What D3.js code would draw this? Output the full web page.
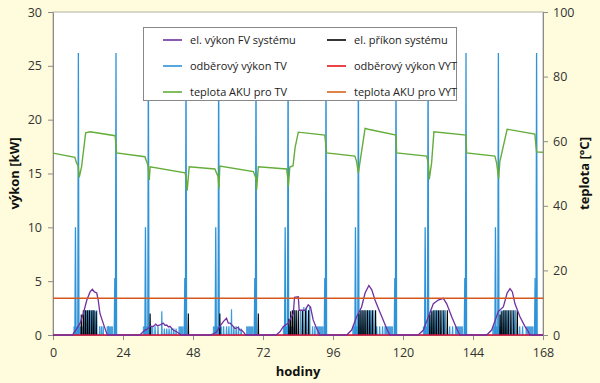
<!DOCTYPE html>
<html>
<head>
<meta charset="utf-8">
<script src="https://cdn.jsdelivr.net/npm/d3@7"></script>
<style>
  body { margin: 0; background: #fefcdc; }
  text { font-family: "Open Sans", "Liberation Sans", sans-serif; }
  .tick text { fill: #333; font-size: 12.5px; }
  .axis path, .axis line { stroke: #8c8c8c; }
  .title { font-weight: bold; font-size: 13px; fill: #111; }
  .legend text { font-size: 11px; fill: #222; }
</style>
</head>
<body>
<div id="chart"></div>
<script>
// ---- data ----
var hourTicks = [0, 24, 48, 72, 96, 120, 144, 168];
var kwTicks = [0, 5, 10, 15, 20, 25, 30];
var tempTicks = [0, 20, 40, 60, 80, 100];

// el. výkon FV systému [hour, kW]
var pvPower = [
  [0, 0], [6.8, 0], [7.0, 0.15], [8.2, 0.6], [9.3, 1.1], [10.4, 2.0], [11.6, 3.25], [12.7, 4.0], [13.5, 4.25],
  [14.2, 4.0], [15.0, 3.9], [15.5, 3.25], [16.1, 2.0], [17.2, 1.1], [18.4, 0.15], [18.6, 0],
  [29.8, 0], [31.5, 0.45], [32.1, 0.5], [33.3, 0.8], [34.4, 0.8], [35.2, 1.0], [35.8, 0.85], [36.7, 0.93],
  [37.8, 1.1], [38.4, 0.9], [39.0, 0.93], [39.6, 0.75], [40.1, 0.8], [41.2, 0.46], [42.4, 0.3], [43.5, 0.1], [43.8, 0],
  [53.8, 0], [55.0, 0.1], [56.1, 0.3], [57.2, 0.8], [58.4, 1.24], [59.5, 1.55], [60.1, 1.1], [60.7, 1.1],
  [61.8, 0.8], [62.4, 0.6], [63.5, 0.7], [64.1, 0.46], [64.7, 0.46], [65.8, 0.1], [66.0, 0],
  [76.5, 0], [77.8, 0.3], [79.0, 0.8], [80.7, 1.1], [81.6, 1.6], [82.4, 2.0], [82.8, 3.5], [84.1, 3.55],
  [84.4, 2.3], [86.4, 2.3], [87.5, 2.8], [88.3, 2.6], [89.2, 1.4], [90.4, 0.6], [91.5, 0],
  [100.7, 0], [102.4, 0.46], [104.1, 1.7], [105.8, 2.6], [107.0, 3.9], [108.3, 4.6], [109.3, 4.2],
  [110.4, 3.25], [111.5, 2.5], [113.2, 1.4], [114.6, 0.46], [115.5, 0],
  [125.2, 0], [127.0, 0.46], [128.7, 1.7], [130.4, 2.9], [132.1, 3.25], [133.8, 3.4], [135.0, 2.9],
  [136.7, 1.7], [138.4, 0.6], [139.5, 0],
  [148.7, 0], [150.4, 0.46], [152.7, 2.2], [154.4, 2.6], [155.7, 3.9], [156.7, 4.3], [157.5, 4.0],
  [158.4, 2.9], [160.1, 1.7], [161.8, 0.8], [163.0, 0.3], [163.5, 0], [168, 0]
];

// el. příkon systému [hour, kW]
var sysPower = [
  [9.7, 1.9], [10.4, 2.3], [11.1, 2.3], [11.8, 2.3], [12.5, 2.3], [13.3, 2.3], [14.0, 2.3], [14.8, 2.2],
  [33.3, 2.0], [46.4, 2.0], [57.2, 2.0], [70.4, 2.0],
  [80.9, 1.5], [81.5, 2.2], [82.1, 2.3], [82.7, 2.3], [83.4, 2.3], [84.1, 2.3], [85.5, 2.3], [86.6, 2.3], [87.6, 2.3],
  [104.9, 2.0], [105.6, 2.3], [106.3, 2.3], [107.0, 2.3], [107.8, 2.3], [108.6, 2.3], [109.5, 2.3], [110.6, 2.3],
  [129.2, 1.9], [129.9, 2.2], [130.6, 2.3], [131.4, 2.3], [132.2, 2.3], [133.0, 2.3], [134.0, 2.3], [135.2, 2.3],
  [153.3, 1.9], [153.9, 2.2], [154.6, 2.3], [155.3, 2.3], [156.1, 2.3], [157.0, 2.3], [158.0, 2.3], [159.2, 2.3]
];

// odběrový výkon TV: draw-off peaks [hour, kW]
var tvPeaks = [
  [7.7, 10], [8.7, 26.2], [21.2, 5.3], [21.6, 26.2],
  [31.7, 10], [32.7, 26.2], [45.2, 5.3], [45.6, 26.2],
  [55.8, 10], [56.8, 26.2], [69.2, 5.3], [69.6, 26.2],
  [79.6, 10], [80.6, 26.2], [93.2, 5.3], [93.6, 26.2],
  [103.7, 10], [104.7, 26.2], [117.2, 5.3], [117.6, 26.2],
  [127.6, 10], [128.6, 26.2], [141.2, 5.3], [141.6, 26.2],
  [151.7, 10], [152.7, 26.2], [165.3, 5.3], [165.8, 26.2]
];
// odběrový výkon TV: smaller draw-offs [hour, kW]
var tvSmall = [
  [10.9, 2.3], [11.5, 2.3], [12.2, 2.3], [12.9, 2.3], [13.6, 2.3], [14.3, 2.3], [15.0, 2.3], [16.0, 0.8], [16.6, 0.8], [17.2, 0.8], [19.0, 0.8],
  [35.0, 0.8], [36.0, 0.8], [37.3, 2.2], [38.2, 0.6], [39.0, 0.6], [39.8, 0.6], [40.6, 0.6], [41.4, 0.6], [42.2, 0.6],
  [58.5, 0.8], [59.5, 0.8], [60.3, 0.8], [61.2, 2.4], [62.0, 0.8], [62.8, 0.8], [63.6, 0.8], [64.5, 0.6],
  [83.0, 2.3], [84.8, 2.3], [86.0, 2.6], [86.9, 2.6], [88.0, 2.6], [89.0, 0.8], [89.8, 0.8],
  [105.3, 2.3], [106.0, 2.3], [106.7, 2.3], [107.4, 2.3], [108.2, 2.3], [109.0, 2.3], [110.0, 2.3], [111.0, 0.8], [112.0, 0.8], [113.0, 0.8],
  [129.6, 2.3], [130.3, 2.3], [131.0, 2.3], [131.8, 2.3], [132.6, 2.3], [133.5, 2.3], [134.5, 2.3], [136.0, 0.8], [137.0, 0.8],
  [153.6, 2.3], [154.3, 2.3], [155.0, 2.3], [155.7, 2.3], [156.6, 2.3], [157.5, 2.3], [158.6, 2.3], [160.0, 0.8], [161.0, 0.8]
];
// odběrový výkon TV: continuous low draw [start hour, end hour, kW]
var tvBlocks = [
  [7.0, 10.2, 0.8], [18.4, 20.6, 0.8],
  [30.8, 34.4, 0.8], [43.0, 44.8, 0.8],
  [54.8, 58.0, 0.8], [66.2, 68.8, 0.8],
  [78.8, 82.4, 0.8], [90.4, 92.8, 0.8],
  [102.6, 106.0, 0.8], [113.6, 116.6, 0.8],
  [126.8, 130.0, 0.8], [137.8, 140.6, 0.8],
  [150.6, 154.0, 0.8], [162.0, 164.8, 0.8]
];

// odběrový výkon VYT [hour, kW]
var vytPower = [[0, 0], [168, 0]];

// teplota AKU pro TV [hour, °C]
var tvTemp = [
  [0, 56.3], [7.5, 55.0], [8.1, 53.2], [8.6, 52.5], [9.0, 48.8], [9.8, 52.1], [11.2, 62.6], [12.7, 62.9],
  [21.3, 61.7], [21.8, 56.4], [31.5, 55.2], [32.1, 53.7], [32.6, 52.5], [33.0, 48.0], [33.3, 52.1],
  [45.3, 50.2], [45.7, 48.5], [46.0, 44.7], [46.7, 52.1], [55.5, 51.4], [56.6, 49.0], [56.9, 45.4], [57.2, 52.3],
  [68.7, 50.6], [69.6, 48.5], [69.8, 44.9], [70.4, 52.1], [80.1, 51.4], [80.5, 48.5], [80.7, 45.9], [81.2, 52.0],
  [82.3, 52.4], [83.0, 58.0], [84.1, 62.8], [93.2, 61.9], [93.8, 56.4], [103.5, 55.4], [104.1, 53.7],
  [104.7, 50.1], [105.2, 53.2], [107.0, 64.0], [108.1, 63.7], [117.6, 61.9], [117.8, 56.4], [128.1, 55.4],
  [128.7, 53.2], [129.0, 48.2], [129.8, 53.2], [130.6, 62.9], [141.6, 61.9], [141.8, 56.4], [151.5, 55.4],
  [152.1, 53.2], [152.8, 48.5], [153.2, 53.7], [155.7, 63.7], [165.2, 62.2], [165.8, 56.7], [168, 56.6]
];

// teplota AKU pro VYT [hour, °C]
var vytTemp = [[0, 11.4], [168, 11.4]];

var legendItems = [
  ["el. výkon FV systému", "#7030a0"], ["el. příkon systému", "#000000"],
  ["odběrový výkon TV", "#2e93d8"], ["odběrový výkon VYT", "#e8141e"],
  ["teplota AKU pro TV", "#64ad3a"], ["teplota AKU pro VYT", "#d9661e"]
];

// ---- layout ----
var svgWidth = 600;
var svgHeight = 383;
var plot = { left: 53, right: 543, top: 12, bottom: 335 };

var svg = d3.select("#chart")
  .append("svg")
  .attr("width", svgWidth)
  .attr("height", svgHeight);

var xScale = d3.scaleLinear().domain([0, 168]).range([plot.left, plot.right]);
var yKw = d3.scaleLinear().domain([0, 30]).range([plot.bottom, plot.top]);
var yTemp = d3.scaleLinear().domain([0, 100]).range([plot.bottom, plot.top]);

// plot area
svg.append("rect")
  .attr("x", plot.left)
  .attr("y", plot.top)
  .attr("width", plot.right - plot.left)
  .attr("height", plot.bottom - plot.top)
  .attr("fill", "#fff")
  .attr("stroke", "#b0b0a0")
  .attr("stroke-width", 1);

// axes
svg.append("g")
  .attr("class", "axis")
  .attr("transform", `translate(0, ${plot.bottom})`)
  .call(d3.axisBottom(xScale).tickValues(hourTicks).tickSize(5).tickPadding(6).tickSizeOuter(0))
  .selectAll("text").attr("dy", "0.9em");

svg.append("g")
  .attr("class", "axis")
  .attr("transform", `translate(${plot.left}, 0)`)
  .call(d3.axisLeft(yKw).tickValues(kwTicks).tickSize(5).tickPadding(6).tickSizeOuter(0));

svg.append("g")
  .attr("class", "axis")
  .attr("transform", `translate(${plot.right}, 0)`)
  .call(d3.axisRight(yTemp).tickValues(tempTicks).tickSize(5).tickPadding(5).tickSizeOuter(0));

// axis titles
svg.append("text")
  .attr("class", "title")
  .attr("x", (plot.left + plot.right) / 2)
  .attr("y", 376)
  .attr("text-anchor", "middle")
  .text("hodiny");

svg.append("text")
  .attr("class", "title")
  .attr("transform", `translate(19, ${(plot.top + plot.bottom) / 2}) rotate(-90)`)
  .attr("text-anchor", "middle")
  .text("výkon [kW]");

svg.append("text")
  .attr("class", "title")
  .attr("transform", `translate(589, ${(plot.top + plot.bottom) / 2}) rotate(-90)`)
  .attr("text-anchor", "middle")
  .text("teplota [°C]");

var series = svg.append("g");

// low continuous TV draw blocks
series.selectAll(".tvBlock")
  .data(tvBlocks)
  .enter()
  .append("rect")
  .attr("x", d => xScale(d[0]))
  .attr("y", d => yKw(d[2]))
  .attr("width", d => xScale(d[1]) - xScale(d[0]))
  .attr("height", d => yKw(0) - yKw(d[2]))
  .attr("fill", "#4a9fdc");

// spike helper: a narrow up-down stroke like a line chart point
function spike(d, half) {
  return `M${xScale(d[0] - half)},${yKw(0)} L${xScale(d[0])},${yKw(d[1])} L${xScale(d[0] + half)},${yKw(0)}`;
}

series.selectAll(".tvSmall")
  .data(tvSmall)
  .enter()
  .append("path")
  .attr("d", d => spike(d, 0.12))
  .attr("fill", "none")
  .attr("stroke", "#3b9ad9")
  .attr("stroke-width", 1.2);

series.selectAll(".tvPeak")
  .data(tvPeaks)
  .enter()
  .append("path")
  .attr("d", d => spike(d, 0.2))
  .attr("fill", "none")
  .attr("stroke", "#2e93d8")
  .attr("stroke-width", 1.3);

series.selectAll(".sys")
  .data(sysPower)
  .enter()
  .append("path")
  .attr("d", d => spike(d, 0.1))
  .attr("fill", "none")
  .attr("stroke", "#000")
  .attr("stroke-width", 1.1);

var lineKw = d3.line().x(d => xScale(d[0])).y(d => yKw(d[1]));
var lineTemp = d3.line().x(d => xScale(d[0])).y(d => yTemp(d[1]));

series.append("path")
  .datum(vytPower)
  .attr("d", lineKw)
  .attr("fill", "none")
  .attr("stroke", "#d8123c")
  .attr("stroke-width", 1.6);

series.append("path")
  .datum(pvPower)
  .attr("d", lineKw)
  .attr("fill", "none")
  .attr("stroke", "#7030a0")
  .attr("stroke-width", 1.3);

series.append("path")
  .datum(vytTemp)
  .attr("d", lineTemp)
  .attr("fill", "none")
  .attr("stroke", "#d5581e")
  .attr("stroke-width", 1.5);

series.append("path")
  .datum(tvTemp)
  .attr("d", lineTemp)
  .attr("fill", "none")
  .attr("stroke", "#64ad3a")
  .attr("stroke-width", 1.4);

// legend
var legend = svg.append("g").attr("class", "legend");

legend.append("rect")
  .attr("x", 143.5)
  .attr("y", 27.5)
  .attr("width", 313)
  .attr("height", 73)
  .attr("fill", "#fff")
  .attr("stroke", "#888")
  .attr("stroke-width", 1);

var items = legend.selectAll(".item")
  .data(legendItems)
  .enter()
  .append("g")
  .attr("transform", (d, i) => `translate(${i % 2 === 0 ? 163 : 327}, ${40 + Math.floor(i / 2) * 26})`);

items.append("line")
  .attr("x1", 0)
  .attr("x2", 19)
  .attr("stroke", d => d[1])
  .attr("stroke-width", 1.6);

items.append("text")
  .attr("x", 27)
  .attr("dy", "0.35em")
  .text(d => d[0]);
</script>
</body>
</html>
